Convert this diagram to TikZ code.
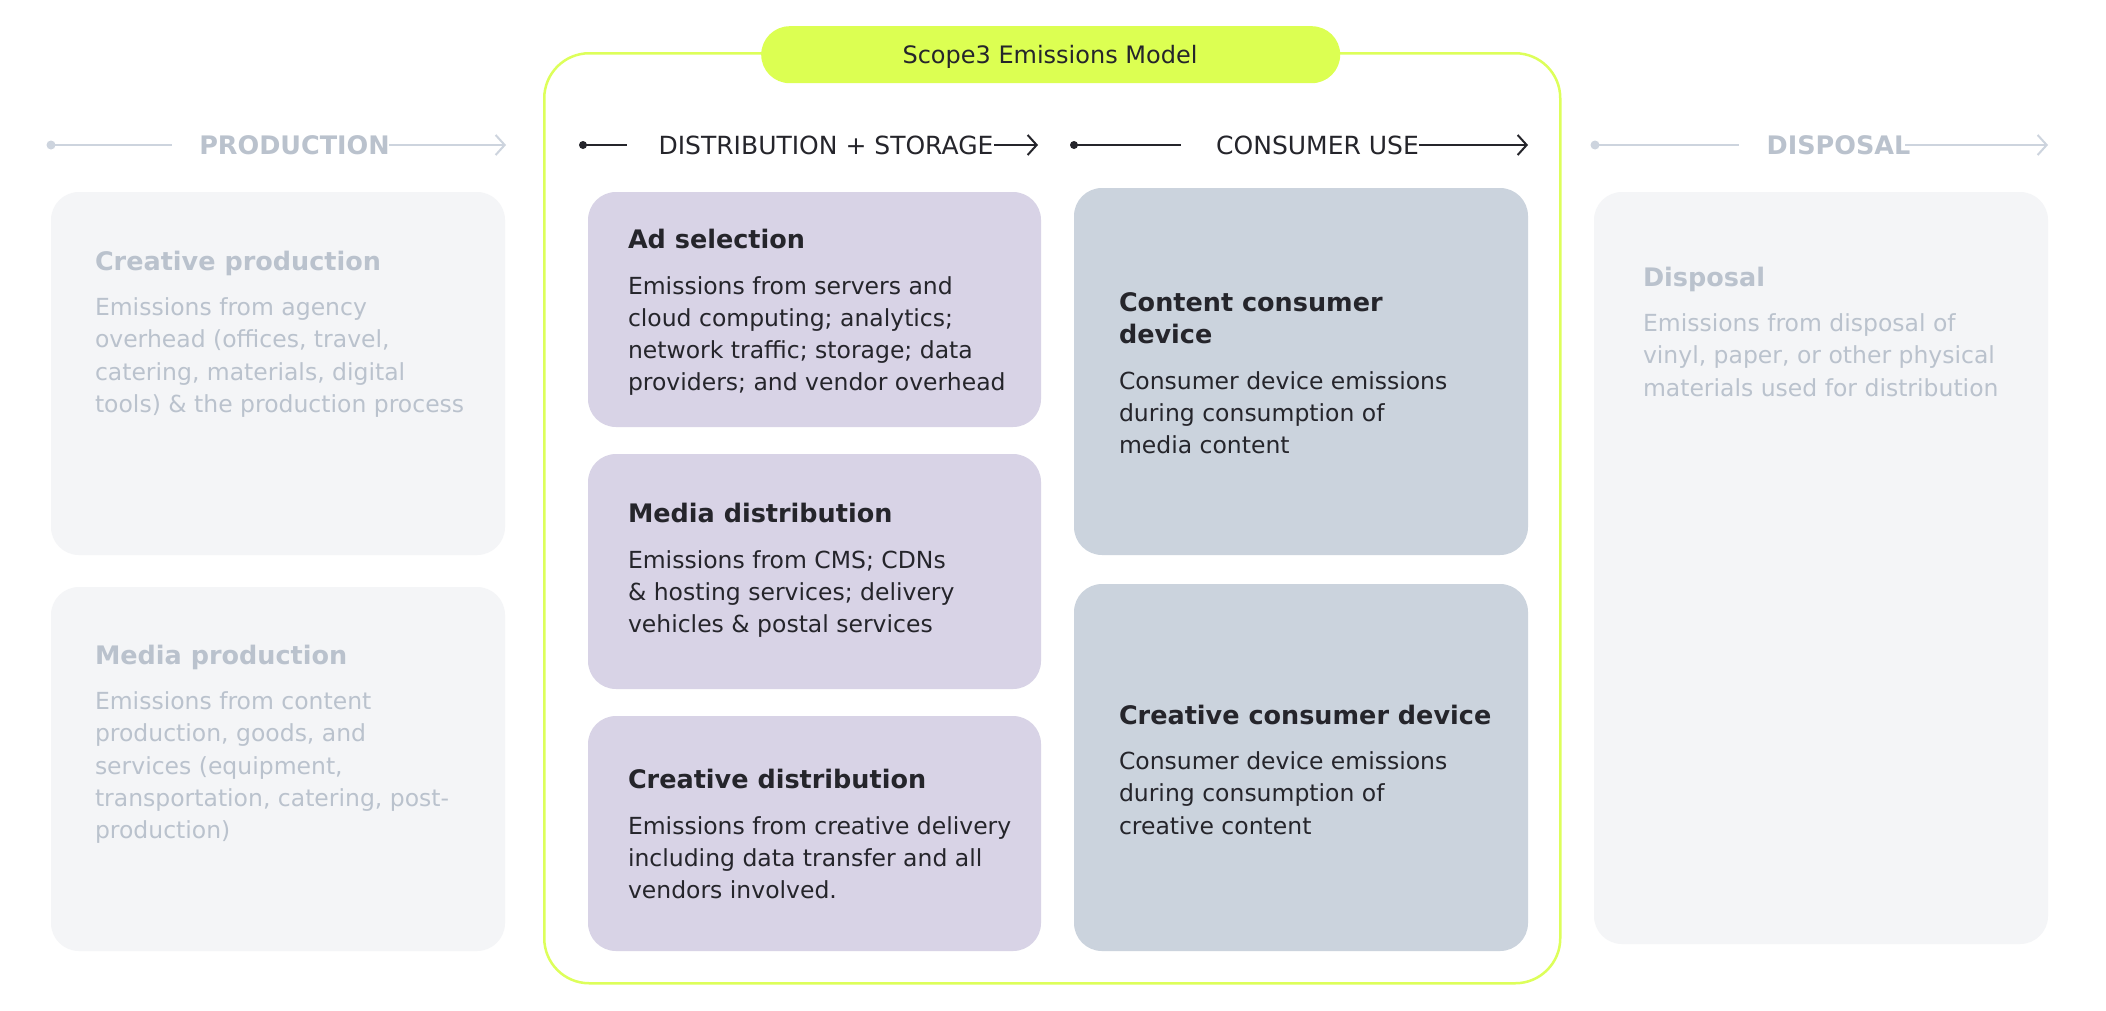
\documentclass[tikz,border=0pt]{standalone}
\usepackage{fontspec}
\setmainfont{DejaVu Sans}
\usetikzlibrary{arrows.meta}
\definecolor{lime}{HTML}{DCFF52}
\definecolor{limeline}{HTML}{DDFF5A}
\definecolor{lilac}{HTML}{D8D3E6}
\definecolor{slate}{HTML}{CBD3DD}
\definecolor{paleb}{HTML}{F4F5F7}
\definecolor{fadetxt}{HTML}{BAC2CD}
\definecolor{fadeline}{HTML}{CDD4DE}
\definecolor{ink}{HTML}{25252B}
\newcommand{\cardtitle}[1]{{\bfseries\fontsize{25.5}{32}\selectfont #1}}
\begin{document}
\begin{tikzpicture}[x=1pt,y=-1pt,
  card/.style={draw=none, rounded corners=28pt, inner sep=0pt, outer sep=0pt, minimum width=454pt, anchor=north west},
  lilaccard/.style={card, fill=lilac, minimum width=453pt},
  slatecard/.style={card, fill=slate},
  palecard/.style={card, fill=paleb},
  cardtext/.style={anchor=base west, inner sep=0pt, outer sep=0pt, align=left, font=\fontsize{23.5}{32.2}\selectfont},
  faded/.style={text=fadetxt},
  dark/.style={text=ink},
  hdrfade/.style={anchor=base, inner sep=0pt, text=fadetxt, font=\bfseries\fontsize{25.5}{30}\selectfont},
  hdrdark/.style={anchor=base, inner sep=0pt, text=ink, font=\fontsize{25}{30}\selectfont},
  fline/.style={draw=fadeline, line width=2pt},
  dline/.style={draw=ink, line width=2pt},
  fdot/.style={circle, fill=fadeline, inner sep=0pt, minimum size=9pt},
  ddot/.style={circle, fill=ink, inner sep=0pt, minimum size=8pt},
  barb/.style={-{Straight Barb[length=9pt,width=20pt,line width=2pt]}}
]
\useasboundingbox[fill=white] (0,0) rectangle (2106,1010);

% green frame and pill
\node[draw=limeline, line width=2.5pt, rounded corners=45pt, minimum width=1016pt, minimum height=930pt, anchor=north west, inner sep=0pt] (frame) at (543,52) {};
\node[fill=lime, rounded corners=28.5pt, minimum width=579pt, minimum height=57pt, anchor=north west, inner sep=0pt] (pill) at (761,26) {};
\node[anchor=base, inner sep=0pt, text=ink, font=\fontsize{24}{28}\selectfont] (pilltxt) at (1050,63.5) {Scope3 Emissions Model};

% cards
\node[palecard, minimum height=363pt] (cprod) at (51,192) {};
\node[palecard, minimum height=364pt] (mprod) at (51,587) {};
\node[lilaccard, minimum height=235pt] (adsel) at (588,192) {};
\node[lilaccard, minimum height=235pt] (mdist) at (588,454) {};
\node[lilaccard, minimum height=235pt] (cdist) at (588,716) {};
\node[slatecard, minimum height=367pt] (ccons) at (1074,188) {};
\node[slatecard, minimum height=367pt] (crcons) at (1074,584) {};
\node[palecard, minimum height=752pt] (disp) at (1594,192) {};

% card texts
\node[cardtext, faded] (cprodt) at (95,270) {\begin{tabular}[t]{@{}l@{}}\cardtitle{Creative production}\\[13.5pt]
Emissions from agency\\ overhead (offices, travel,\\ catering, materials, digital\\ tools) \& the production process\end{tabular}};
\node[cardtext, faded] (mprodt) at (95,664) {\begin{tabular}[t]{@{}l@{}}\cardtitle{Media production}\\[13.5pt]
Emissions from content\\ production, goods, and\\ services (equipment,\\ transportation, catering, post-\\ production)\end{tabular}};
\node[cardtext, dark] (adselt) at (628,248.5) {\begin{tabular}[t]{@{}l@{}}\cardtitle{Ad selection}\\[13.5pt]
Emissions from servers and\\ cloud computing; analytics;\\ network traffic; storage; data\\ providers; and vendor overhead\end{tabular}};
\node[cardtext, dark] (mdistt) at (628,522.5) {\begin{tabular}[t]{@{}l@{}}\cardtitle{Media distribution}\\[13.5pt]
Emissions from CMS; CDNs\\ \& hosting services; delivery\\ vehicles \& postal services\end{tabular}};
\node[cardtext, dark] (cdistt) at (628,788.5) {\begin{tabular}[t]{@{}l@{}}\cardtitle{Creative distribution}\\[13.5pt]
Emissions from creative delivery\\ including data transfer and all\\ vendors involved.\end{tabular}};
\node[cardtext, dark] (cconst) at (1119,311.5) {\begin{tabular}[t]{@{}l@{}}\cardtitle{Content consumer}\\ \cardtitle{device}\\[13.5pt]
Consumer device emissions\\ during consumption of\\ media content\end{tabular}};
\node[cardtext, dark] (crconst) at (1119,724) {\begin{tabular}[t]{@{}l@{}}\cardtitle{Creative consumer device}\\[13.5pt]
Consumer device emissions\\ during consumption of\\ creative content\end{tabular}};
\node[cardtext, faded] (dispt) at (1643,286) {\begin{tabular}[t]{@{}l@{}}\cardtitle{Disposal}\\[13.5pt]
Emissions from disposal of\\ vinyl, paper, or other physical\\ materials used for distribution\end{tabular}};

% header: PRODUCTION
\node[hdrfade] (hprod) at (294.5,154) {PRODUCTION};
\node[fdot] (pdot) at (51,145) {};
\coordinate (pa) at (172,145);
\coordinate (pb) at (389,145);
\coordinate (pc) at (506,145);
\draw[fline] (pdot.center) -- (pa);
\draw[fline, barb] (pb) -- (pc);

% header: DISTRIBUTION + STORAGE
\node[hdrdark] (hdist) at (826,154) {DISTRIBUTION + STORAGE};
\node[ddot] (ddot1) at (583,145) {};
\coordinate (da) at (627,145);
\coordinate (db) at (994,145);
\coordinate (dc) at (1038,145);
\draw[dline] (ddot1.center) -- (da);
\draw[dline, barb] (db) -- (dc);

% header: CONSUMER USE
\node[hdrdark] (hcons) at (1317.5,154) {CONSUMER USE};
\node[ddot] (cdot) at (1074,145) {};
\coordinate (ca) at (1181,145);
\coordinate (cb) at (1419,145);
\coordinate (cc) at (1528,145);
\draw[dline] (cdot.center) -- (ca);
\draw[dline, barb] (cb) -- (cc);

% header: DISPOSAL
\node[hdrfade] (hdisp) at (1838.5,154) {DISPOSAL};
\node[fdot] (sdot) at (1595,145) {};
\coordinate (sa) at (1739,145);
\coordinate (sb) at (1905,145);
\coordinate (sc) at (2048,145);
\draw[fline] (sdot.center) -- (sa);
\draw[fline, barb] (sb) -- (sc);
\end{tikzpicture}
\end{document}
